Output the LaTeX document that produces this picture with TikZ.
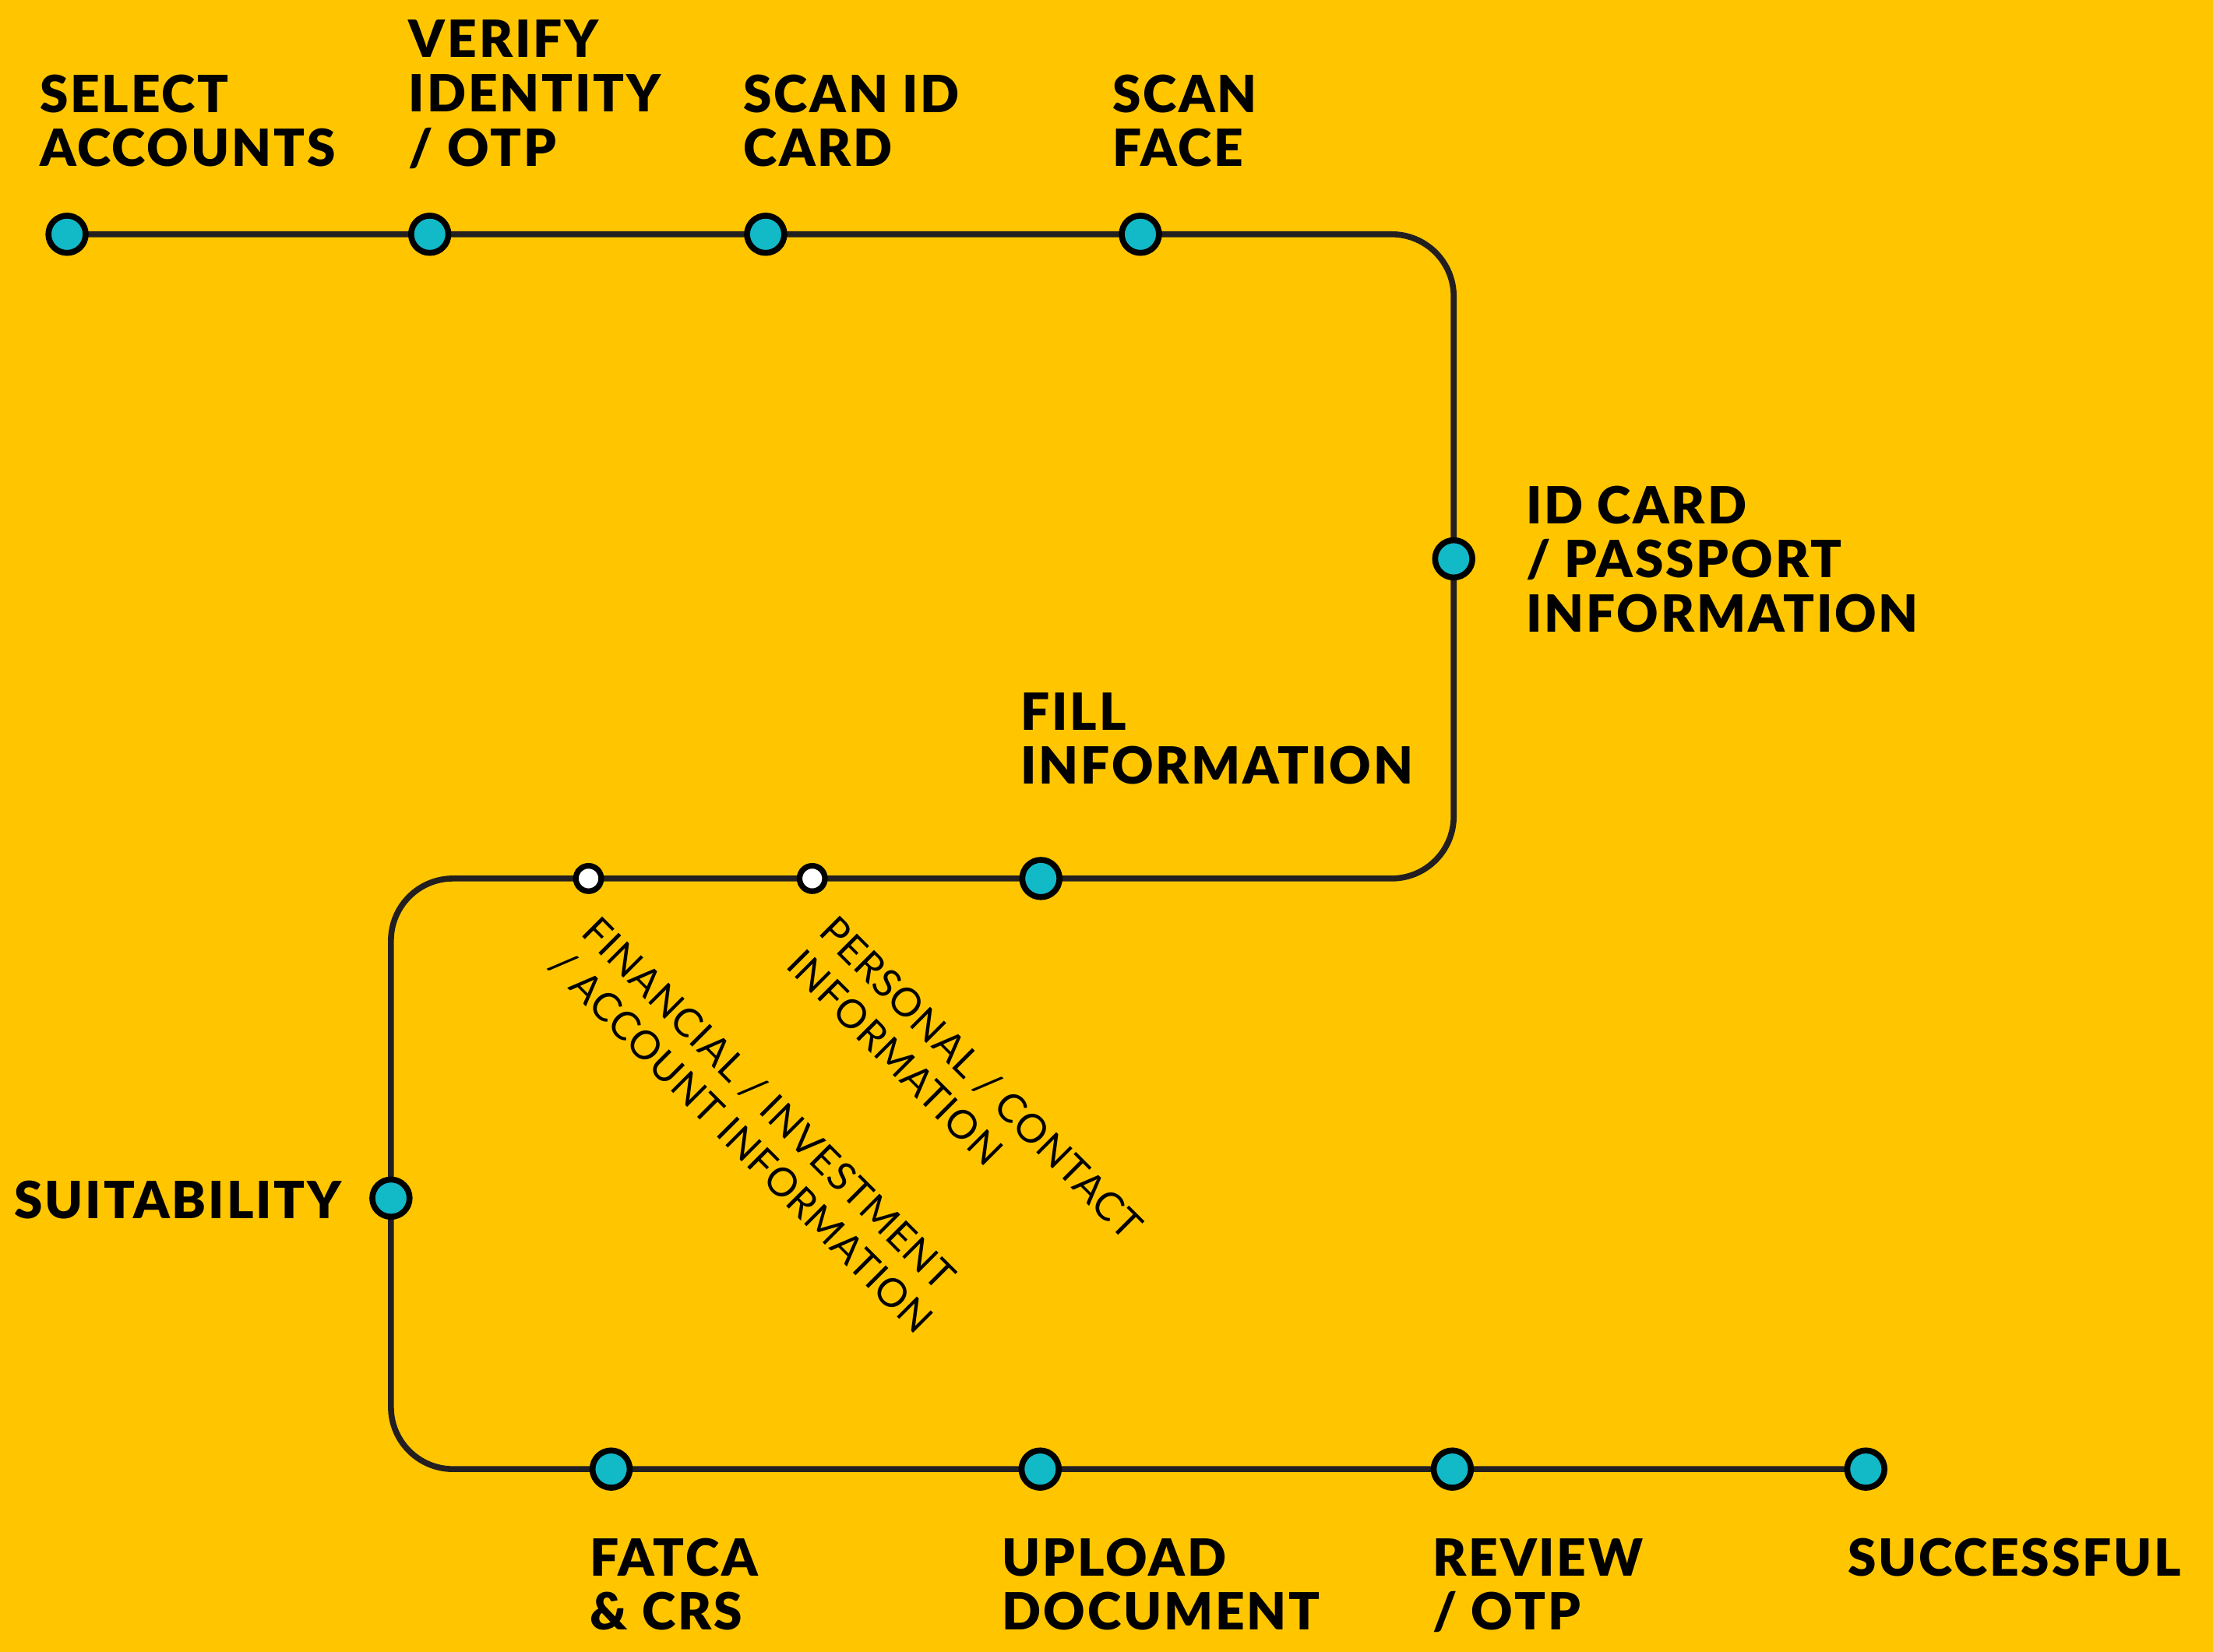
\documentclass[tikz,border=0pt]{standalone}
\usepackage{fontspec}
\setmainfont{Lato}
\newfontfamily\heavyfont{Lato Black}[LetterSpace=4.3]
\newfontfamily\subfont{Lato}[LetterSpace=2]
\usetikzlibrary{backgrounds}
\definecolor{bgyellow}{HTML}{FFC600}
\definecolor{dotcyan}{HTML}{12B9C7}
\definecolor{trackc}{HTML}{231F20}
\begin{document}
\begin{tikzpicture}[x=1pt,y=-1pt,
  dot/.style={circle,draw=black,line width=4.2pt,fill=dotcyan,minimum size=26.4pt,inner sep=0pt},
  subdot/.style={circle,draw=black,line width=4pt,fill=white,minimum size=18pt,inner sep=0pt},
  track/.style={draw=trackc,line width=4.2pt,rounded corners=44pt},
  lbl/.style={anchor=base west,inner sep=0pt,font=\fontsize{36.3}{38}\selectfont\heavyfont,text=black},
  sublbl/.style={anchor=base west,inner sep=0pt,rotate=-45,font=\fontsize{28}{33}\selectfont\subfont,text=black}]
\useasboundingbox (0,0) rectangle (1568,1170.6);
% stations
\node[dot] (sa) at (47.5,166) {};
\node[dot] (vi) at (304.5,166) {};
\node[dot] (si) at (542.5,166) {};
\node[dot] (sf) at (808,166) {};
\node[dot] (id) at (1030,396) {};
\node[dot] (fi) at (737.5,622.5) {};
\node[subdot] (pc) at (575.5,622.5) {};
\node[subdot] (fn) at (417,622.5) {};
\node[dot] (su) at (277,849) {};
\node[dot] (fa) at (433,1041) {};
\node[dot] (ud) at (737,1041) {};
\node[dot] (ro) at (1029,1041) {};
\node[dot] (ok) at (1322,1041) {};
% track
\begin{scope}[on background layer]
\fill[bgyellow] (0,0) rectangle (1568,1170.6);
\draw[track] (sa.center) -- (vi.center) -- (si.center) -- (sf.center)
  -- (sf.center -| id.center) -- (id.center) -- (id.center |- fi.center)
  -- (fi.center) -- (pc.center) -- (fn.center) -- (fn.center -| su.center)
  -- (su.center) -- (su.center |- fa.center) -- (fa.center) -- (ud.center)
  -- (ro.center) -- (ok.center);
\end{scope}
% labels
\node[lbl] (sa1) at (28,79.5) {SELECT};
\node[lbl] (sa2) at (28,117.6) {ACCOUNTS};
\node[lbl] (vi1) at (289.5,40.5) {VERIFY};
\node[lbl] (vi2) at (289.5,79) {IDENTITY};
\node[lbl] (vi3) at (289.5,117.6) {/ OTP};
\node[lbl] (si1) at (526.5,79.5) {SCAN ID};
\node[lbl] (si2) at (526.5,117.6) {CARD};
\node[lbl] (sf1) at (788,79.5) {SCAN};
\node[lbl] (sf2) at (788,117.6) {FACE};
\node[lbl] (id1) at (1081,371) {ID CARD};
\node[lbl] (id2) at (1081,409.5) {/ PASSPORT};
\node[lbl] (id3) at (1081,448) {INFORMATION};
\node[lbl] (fi1) at (723,517.6) {FILL};
\node[lbl] (fi2) at (723,555.7) {INFORMATION};
\node[lbl] (su1) at (10,863.5) {SUITABILITY};
\node[lbl] (fa1) at (418,1117) {FATCA};
\node[lbl] (fa2) at (418,1155) {\& CRS};
\node[lbl] (ud1) at (710,1117) {UPLOAD};
\node[lbl] (ud2) at (710,1155) {DOCUMENT};
\node[lbl] (ro1) at (1015,1117) {REVIEW};
\node[lbl] (ro2) at (1015,1155) {/ OTP};
\node[lbl] (ok1) at (1309,1117) {SUCCESSFUL};
% rotated sub-step labels
\node[sublbl] (fn1) at (411,662) {FINANCIAL / INVESTMENT};
\node[sublbl] (fn2) at (387.7,685.3) {/ ACCOUNT INFORMATION};
\node[sublbl] (pc1) at (579,661.5) {PERSONAL / CONTACT};
\node[sublbl] (pc2) at (555.7,684.8) {INFORMATION};
\end{tikzpicture}
\end{document}
